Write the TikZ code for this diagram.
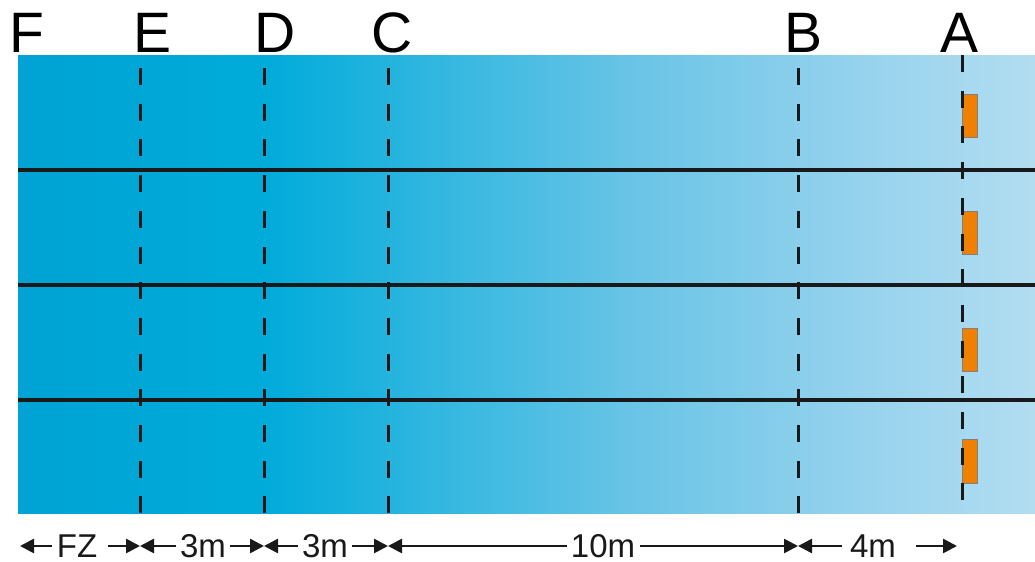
\documentclass[tikz,border=0pt]{standalone}
\usepackage{fontspec}
\setmainfont{Liberation Sans}
\usetikzlibrary{arrows.meta}
\definecolor{poolA}{HTML}{00A3D3}
\definecolor{poolB}{HTML}{00ABDA}
\definecolor{poolC}{HTML}{68C4E6}
\definecolor{poolD}{HTML}{98D3EE}
\definecolor{poolE}{HTML}{B2DDF1}
\definecolor{buoy}{HTML}{F08000}
\pgfdeclarehorizontalshading{pool}{100bp}{color(0bp)=(poolA); color(25bp)=(poolA); color(37bp)=(poolB); color(55bp)=(poolC); color(67bp)=(poolD); color(75bp)=(poolE); color(100bp)=(poolE)}
\tikzset{
  lane/.style={line width=2pt, black!90},
  markline/.style={line width=1.5pt, black!90, dash pattern=on 8.5pt off 9.35pt, dash phase=11.35pt},
  buoybox/.style={fill=buoy, draw=black!50, line width=0.3pt},
  dimarrow/.style={line width=1.3pt, black!90, -{Triangle[length=7pt,width=7pt]}},
  toplabel/.style={font=\fontsize{28.5}{30}\selectfont, anchor=base, inner sep=0pt},
  dimlabel/.style={font=\fontsize{16.5}{18}\selectfont, inner xsep=2pt, inner ysep=0.5pt, text=black!90}
}

\begin{document}
\begin{tikzpicture}[x=0.5pt,y=-0.5pt]
\useasboundingbox (0,0) rectangle (1035,562);
% pool
\shade[shading=pool] (18,55) rectangle (1035,513);
\coordinate (L1) at (18,170); \coordinate (R1) at (1035,170);
\coordinate (L2) at (18,285); \coordinate (R2) at (1035,285);
\coordinate (L3) at (18,400); \coordinate (R3) at (1035,400);
\draw[lane] (L1)--(R1);
\draw[lane] (L2)--(R2);
\draw[lane] (L3)--(R3);
% buoys at A
\draw[buoybox] (962,94) rectangle (977,137);
\draw[buoybox] (962,211) rectangle (977,254);
\draw[buoybox] (962,328) rectangle (977,371);
\draw[buoybox] (962,439) rectangle (977,483);
% marks
\coordinate (Et) at (140,55); \coordinate (Eb) at (140,513);
\coordinate (Dt) at (264,55); \coordinate (Db) at (264,513);
\coordinate (Ct) at (388,55); \coordinate (Cb) at (388,513);
\coordinate (Bt) at (798,55); \coordinate (Bb) at (798,513);
\coordinate (At) at (962,55); \coordinate (Ab) at (962,513);
\draw[markline] (Et)--(Eb);
\draw[markline] (Dt)--(Db);
\draw[markline] (Ct)--(Cb);
\draw[markline] (Bt)--(Bb);
\draw[markline, dash phase=0pt] (At)--(Ab);
% letters
\node[toplabel] (labF) at (27,53) {F};
\node[toplabel] (labE) at (153,53) {E};
\node[toplabel] (labD) at (275,53) {D};
\node[toplabel] (labC) at (392,53) {C};
\node[toplabel] (labB) at (804,53) {B};
\node[toplabel] (labA) at (960,53) {A};
% distances
\coordinate (dF) at (20,546);
\coordinate (dE) at (140,546);
\coordinate (dD) at (264,546);
\coordinate (dC) at (388,546);
\coordinate (dB) at (798,546);
\coordinate (dA) at (957,546);
\node[dimlabel] (fz) at (77,546) {FZ};
\node[dimlabel] (ed) at (203,546) {3m};
\node[dimlabel] (dc) at (325,546) {3m};
\node[dimlabel] (cb) at (603,546) {10m};
\node[dimlabel] (ba) at (873,546) {4m};
\draw[dimarrow] (fz.west)--(dF);
\draw[dimarrow] ([xshift=3pt]fz.east)--(dE);
\draw[dimarrow] (ed.west)--(dE);
\draw[dimarrow] (ed.east)--(dD);
\draw[dimarrow] (dc.west)--(dD);
\draw[dimarrow] (dc.east)--(dC);
\draw[dimarrow] (cb.west)--(dC);
\draw[dimarrow] (cb.east)--(dB);
\draw[dimarrow] ([xshift=-2pt]ba.west)--(dB);
\draw[dimarrow] ([xshift=8pt]ba.east)--(dA);
\end{tikzpicture}
\end{document}
